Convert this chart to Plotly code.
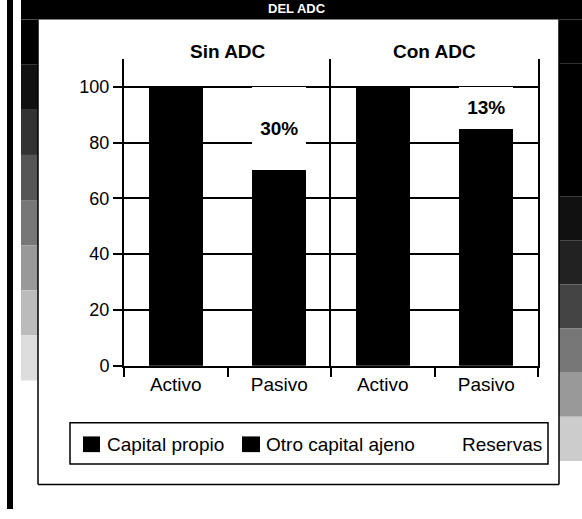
import plotly.graph_objects as go

W, H = 582, 519

# ---------------- data ----------------
categories = ["Activo", "Pasivo"]
panels = ["Sin ADC", "Con ADC"]
capital_propio = [100, 100]        # Activo bars (Sin ADC, Con ADC)
otro_capital_ajeno = [70, 85]      # Pasivo, black part
reservas = [30, 15]                # Pasivo, white part
reservas_labels = ["30%", "13%"]
y_ticks = [0, 20, 40, 60, 80, 100]
legend_names = ["Capital propio", "Otro capital ajeno", "Reservas"]

FONT = "Liberation Sans, Arial, sans-serif"


def px_x(p):
    return p / W


def px_y(p):
    return 1 - p / H


fig = go.Figure()

axes = [("x", "y"), ("x2", "y2")]
for i, (xa, ya) in enumerate(axes):
    fig.add_trace(go.Bar(
        x=[categories[0]], y=[capital_propio[i]], name=legend_names[0],
        marker=dict(color="black", line=dict(width=0)),
        xaxis=xa, yaxis=ya, showlegend=False, hoverinfo="skip"))
    fig.add_trace(go.Bar(
        x=[categories[1]], y=[otro_capital_ajeno[i]], name=legend_names[1],
        marker=dict(color="black", line=dict(width=0)),
        xaxis=xa, yaxis=ya, showlegend=False, hoverinfo="skip"))
    fig.add_trace(go.Bar(
        x=[categories[1]], y=[reservas[i]], name=legend_names[2],
        marker=dict(color="white", line=dict(width=0)),
        text=[f"<b>{reservas_labels[i]}</b>"], textposition="inside",
        insidetextanchor="middle", constraintext="none",
        textfont=dict(family=FONT, size=19, color="black"),
        xaxis=xa, yaxis=ya, showlegend=False, hoverinfo="skip"))

xcommon = dict(type="category", categoryorder="array", categoryarray=categories,
               tickson="boundaries", ticks="outside", ticklen=9, tickwidth=2,
               tickcolor="black", showline=True, linewidth=2, linecolor="black",
               showgrid=False, zeroline=False,
               tickfont=dict(family=FONT, size=19, color="black"))
ycommon = dict(range=[0, 110], tickvals=y_ticks, showgrid=True, gridcolor="black",
               gridwidth=1.5, zeroline=False, showline=True, linewidth=2,
               linecolor="black", domain=[px_y(373), px_y(60)])

fig.update_layout(
    width=W, height=H,
    margin=dict(l=0, r=0, t=0, b=0),
    paper_bgcolor="white", plot_bgcolor="rgba(0,0,0,0)",
    barmode="stack", bargap=0.48,
    showlegend=False,
    font=dict(family=FONT, color="black"),
    xaxis=dict(domain=[px_x(124), px_x(331)], anchor="y", **xcommon),
    xaxis2=dict(domain=[px_x(331), px_x(538)], anchor="y2", **xcommon),
    yaxis=dict(anchor="x", ticks="outside", ticklen=9, tickwidth=2, tickcolor="black",
               tickfont=dict(family=FONT, size=18, color="black"), **ycommon),
    yaxis2=dict(anchor="x2", matches="y", showticklabels=False, ticks="",
                mirror=True, **ycommon),
)

# ---------------- page decoration (scan frame) ----------------
shapes = []


def rect(x0, y0, x1, y1, fill, line_w=0, line_c="black", layer="below"):
    shapes.append(dict(type="rect", xref="paper", yref="paper",
                       x0=px_x(x0), x1=px_x(x1), y0=px_y(y1), y1=px_y(y0),
                       fillcolor=fill, line=dict(width=line_w, color=line_c),
                       layer=layer))


def line(x0, y0, x1, y1, w=1.5):
    shapes.append(dict(type="line", xref="paper", yref="paper",
                       x0=px_x(x0), x1=px_x(x1), y0=px_y(y0), y1=px_y(y1),
                       line=dict(width=w, color="black"), layer="below"))


# top black band and left/right strips
rect(21, 0, W, 20, "black")
rect(7, 0, 13, H, "black")
left_grad = ["#000000", "#111111", "#333333", "#555555", "#777777", "#999999",
             "#bbbbbb", "#dddddd"]
for k, c in enumerate(left_grad):
    rect(21, 20 + k * 46, 38, 20 + (k + 1) * 46, c)
right_grad = ["#000000", "#000000", "#000000", "#000000", "#111111", "#222222",
              "#444444", "#777777", "#999999", "#cccccc"]
for k, c in enumerate(right_grad):
    rect(559, 20 + k * 45, W, 20 + (k + 1) * 45, c)
# panel border
line(38, 20, 38, 494)
line(38, 494, 559, 494)
line(559, 20, 559, 494)

# legend box (manual)
rect(70, 431, 548, 473, "rgba(0,0,0,0)", line_w=1.5)
rect(83, 445, 100, 461, "black")
rect(242, 445, 260, 461, "black")

fig.update_layout(shapes=shapes)

annotations = [
    dict(text="<b>DEL ADC</b>", xref="paper", yref="paper", x=px_x(297), y=px_y(9),
         xanchor="center", yanchor="middle", showarrow=False,
         font=dict(family=FONT, size=13, color="white")),
    dict(text=legend_names[0], xref="paper", yref="paper", x=px_x(105), y=px_y(453),
         xanchor="left", yanchor="middle", showarrow=False,
         font=dict(family=FONT, size=19, color="black")),
    dict(text=legend_names[1], xref="paper", yref="paper", x=px_x(264), y=px_y(453),
         xanchor="left", yanchor="middle", showarrow=False,
         font=dict(family=FONT, size=19, color="black")),
    dict(text=legend_names[2], xref="paper", yref="paper", x=px_x(544), y=px_y(453),
         xanchor="right", yanchor="middle", showarrow=False,
         font=dict(family=FONT, size=19, color="black")),
]
for i, xa in enumerate(["x", "x2"]):
    annotations.append(dict(text=f"<b>{panels[i]}</b>", xref=f"{xa} domain", yref="paper",
                            x=0.5, y=px_y(53), xanchor="center", yanchor="middle",
                            showarrow=False, font=dict(family=FONT, size=19, color="black")))
fig.update_layout(annotations=annotations)

fig.write_html("out.html")
